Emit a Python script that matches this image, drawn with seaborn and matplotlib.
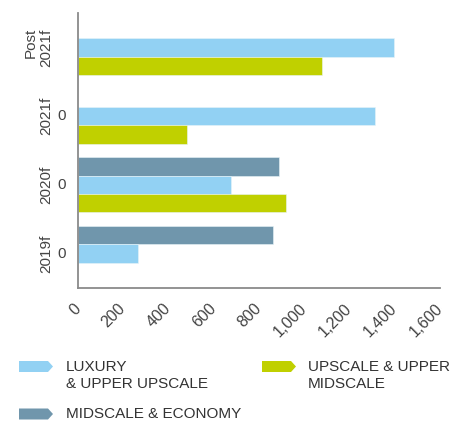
import matplotlib
matplotlib.use("Agg")
import matplotlib.pyplot as plt
from matplotlib.patches import Polygon
import seaborn as sns
import pandas as pd

categories = ["Post\n2021f", "2021f", "2020f", "2019f"]
segments = ["MIDSCALE & ECONOMY", "LUXURY\n& UPPER UPSCALE", "UPSCALE & UPPER\nMIDSCALE"]
midscale = [None, None, 887, 864]
luxury = [1397, 1313, 678, 263]
upscale = [1078, 482, 921, None]
zero_labels = ["", "0", "0", "0"]
xticks = [0, 200, 400, 600, 800, 1000, 1200, 1400, 1600]
xtick_labels = ["0", "200", "400", "600", "800", "1,000", "1,200", "1,400", "1,600"]
colors = ["#7096AC", "#92D1F3", "#C0D000"]

rows = []
for seg, vals in zip(segments, [midscale, luxury, upscale]):
    for c, v in zip(categories, vals):
        if v is not None:
            rows.append({"cat": c, "seg": seg, "val": v})
df = pd.DataFrame(rows)

sns.set_style("white")
plt.rcParams["font.family"] = ["Liberation Sans", "DejaVu Sans"]

fig = plt.figure(figsize=(4.63, 4.21), dpi=100)
ax = fig.add_axes([78 / 463, 1 - 288 / 421, (440 - 78) / 463, (288 - 13) / 421])

sns.barplot(data=df, y="cat", x="val", hue="seg", order=categories,
            hue_order=segments, palette=colors, orient="h", width=0.8,
            saturation=1, edgecolor="#e8f4f8", linewidth=0.4, legend=False, ax=ax)

ax.set_xlim(0, 1600)
ax.set_ylim(3.5, -0.5)
ax.set_xlabel("")
ax.set_ylabel("")
txtc = "#444444"
ax.set_xticks(xticks)
ax.set_xticklabels(xtick_labels, rotation=45, ha="right", va="center",
                   rotation_mode="anchor", fontsize=11.5, color=txtc)
ax.set_yticks(range(len(categories)))
ax.set_yticklabels(categories, rotation=90, ha="right", va="center",
                   fontsize=11, color=txtc, linespacing=1.15)
ax.tick_params(axis="x", length=0, pad=13)
ax.tick_params(axis="y", length=0, pad=17.5)
for s in ["top", "right"]:
    ax.spines[s].set_visible(False)
for s in ["left", "bottom"]:
    ax.spines[s].set_color("#8a8a8a")
    ax.spines[s].set_linewidth(1.3)

for i, z in enumerate(zero_labels):
    if z:
        ax.annotate(z, xy=(0, i), xycoords="data", xytext=(-16, 0),
                    textcoords="offset pixels", ha="center", va="center",
                    fontsize=11, color=txtc)

# legend (arrow-shaped swatches)
W, H = 463, 421
def swatch(x0, yc, color):
    x1, tip, h = x0 + 29, x0 + 34, 5.5
    pts = [(x0, yc - h), (x1, yc - h), (tip, yc), (x1, yc + h), (x0, yc + h)]
    pts = [(px / W, 1 - py / H) for px, py in pts]
    fig.patches.append(Polygon(pts, closed=True, transform=fig.transFigure,
                               facecolor=color, edgecolor="none"))

legend_items = [
    (19, 366.5, 66, colors[1], segments[1]),
    (262, 366.5, 308, colors[2], segments[2]),
    (19, 414, 66, colors[0], segments[0]),
]
for sx, sy, tx, col, lab in legend_items:
    swatch(sx, sy, col)
    fig.text(tx / W, 1 - (sy - 6.5) / H, lab, ha="left", va="top",
             fontsize=11, color="#333333", linespacing=1.3)

fig.savefig("out.png", dpi=100)
